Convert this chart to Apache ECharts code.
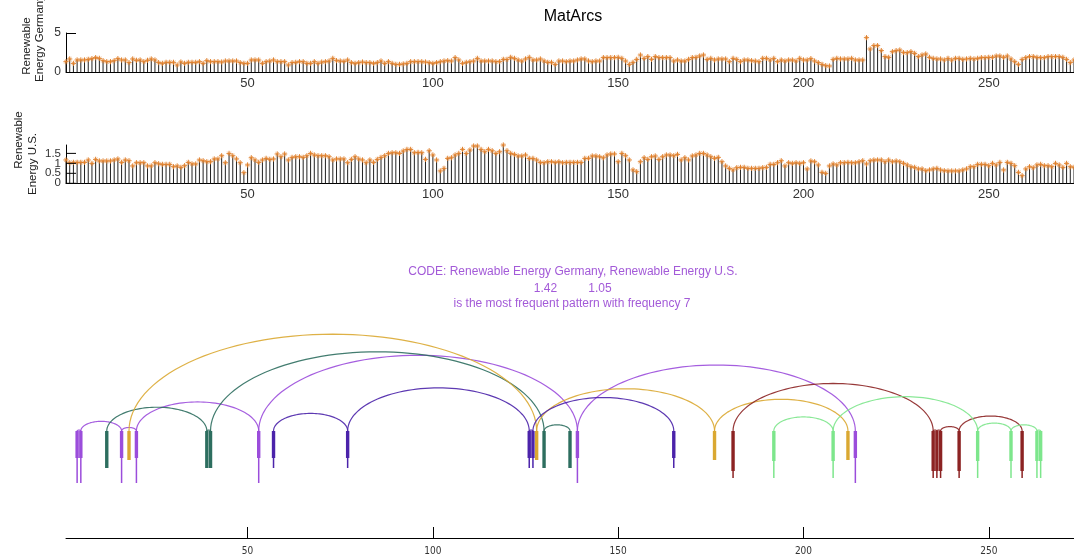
<!DOCTYPE html>
<html><head><meta charset="utf-8">
<script src="https://cdn.jsdelivr.net/npm/echarts@6/dist/echarts.min.js"></script>
<style>html,body{margin:0;padding:0;background:#fff}#c{width:1074px;height:558px}</style>
</head><body><div id="c"></div>
<script>
// ---------- data ----------
const germany = [
1.32,1.67,1.11,1.54,1.54,1.54,1.62,1.71,1.84,1.75,
1.45,1.32,1.32,1.45,1.71,1.54,1.54,1.2,1.67,1.5,
1.54,1.32,1.5,1.67,1.54,1.2,1.11,1.24,1.24,1.24,
0.9,1.28,1.11,1.24,1.24,1.24,1.32,1.11,1.45,1.32,
1.32,1.32,1.28,1.41,1.41,1.41,1.41,1.2,1.11,1.11,
1.54,1.54,1.54,1.11,1.32,1.41,1.54,1.32,1.32,1.32,
0.9,1.2,1.24,1.32,1.32,1.11,1.11,1.32,1.11,1.28,
1.32,1.41,1.75,1.45,1.41,1.37,1.54,1.2,1.11,1.2,
1.28,
1.2,1.2,1.11,1.2,1.41,1.11,1.32,1.11,0.98,0.98,
1.03,1.11,1.32,1.32,1.32,1.32,1.28,1.2,1.11,1.2,
1.32,1.41,1.45,1.41,1.84,1.54,1.11,1.24,1.32,1.41,
1.75,1.41,1.41,1.41,1.41,1.32,1.32,1.62,1.62,1.88,
1.75,1.54,1.41,1.67,1.88,1.54,1.54,1.67,1.41,1.24,
1.24,0.98,1.41,1.41,1.32,1.41,1.41,1.54,1.67,1.67,
1.41,1.32,1.41,1.41,1.84,1.84,1.84,1.84,1.88,1.75,
1.41,0.98,1.24,1.62,2.18,1.75,1.97,1.62,1.97,1.84,
1.84,1.84,1.84,1.41,1.54,1.41,1.41,1.62,1.84,1.88,
2.05,2.18,1.62,1.75,1.54,1.67,1.67,
1.67,1.32,1.75,1.62,1.32,1.54,1.54,1.45,1.41,1.32,
1.75,1.75,1.54,1.75,1.32,1.54,1.41,1.54,1.54,1.41,
1.75,1.54,1.54,1.71,1.41,1.2,0.98,0.81,0.77,1.62,
1.75,1.67,1.67,1.67,1.75,1.54,1.54,1.54,
4.4,
2.95,3.38,3.38,2.74,1.97,1.88,2.6,2.74,2.82,2.48,
2.48,2.6,2.39,1.97,2.18,2.31,1.88,1.75,1.67,1.67,
1.54,1.75,1.54,1.75,1.75,1.62,1.67,1.75,1.67,1.75,
1.84,1.84,1.88,1.88,2.05,2.05,1.88,2.05,1.67,1.32,
0.98,1.62,1.84,1.97,1.97,1.88,1.84,1.84,1.97,1.97,
1.97,1.97,1.88,1.62,1.2,1.54
];
const us = [
1.17,1.03,1.05,1.05,1.05,1.05,1.17,1.0,1.2,1.12,
1.12,1.12,1.12,1.17,1.22,1.05,1.17,1.13,0.87,1.03,
1.03,1.03,0.87,0.87,1.03,0.98,0.95,0.95,0.95,0.83,
0.87,0.8,0.88,1.05,0.97,0.97,1.17,1.13,1.08,1.08,
1.22,1.22,1.38,1.03,1.5,1.38,1.22,1.03,0.53,0.92,
1.28,1.17,1.05,1.17,1.25,1.2,1.22,1.47,1.33,1.47,
1.17,1.3,1.33,1.33,1.3,1.38,1.5,1.42,1.38,1.38,
1.38,1.33,1.17,1.22,1.22,1.22,1.03,1.2,1.33,1.22,
1.17,
1.03,1.17,1.05,1.2,1.3,1.38,1.5,1.53,1.53,1.5,
1.62,1.7,1.7,1.53,1.55,1.53,1.2,1.63,1.42,1.17,
0.62,0.75,1.25,1.28,1.42,1.5,1.7,1.5,1.67,1.87,
1.87,1.7,1.58,1.7,1.63,1.5,1.58,1.92,1.63,1.5,
1.45,1.37,1.37,1.42,1.25,1.25,1.17,1.05,1.03,1.08,
1.08,1.05,1.08,1.03,1.05,1.05,1.05,1.05,1.05,1.25,
1.25,1.37,1.37,1.33,1.28,1.42,1.47,1.47,1.08,1.5,
1.38,1.17,0.67,0.58,1.08,1.28,1.2,1.33,1.37,1.2,
1.33,1.42,1.42,1.38,1.45,1.17,1.28,1.17,1.37,1.42,
1.5,1.5,1.42,1.33,1.25,1.3,1.08,
0.87,0.75,0.67,0.78,0.8,0.8,0.75,0.75,0.75,0.75,
0.78,0.8,0.95,0.95,1.03,1.13,0.87,1.03,1.0,1.03,
1.0,1.03,0.72,1.12,1.08,0.92,0.55,0.5,0.87,0.97,
0.92,1.03,1.03,1.05,1.03,1.03,1.08,1.13,0.97,1.13,
1.17,1.17,1.17,1.08,1.17,1.08,1.12,1.08,1.0,0.92,
0.83,0.8,0.72,0.72,0.63,0.67,0.72,0.75,0.67,0.63,
0.62,0.62,0.62,0.62,0.67,0.72,0.83,0.83,0.95,0.95,
0.95,0.88,1.0,0.92,1.05,0.67,1.05,1.0,0.88,0.55,
0.38,0.72,0.83,0.78,0.92,0.95,0.88,0.88,0.83,1.0,
0.92,0.8,1.0,0.83,0.8
];
const xTickValues = [50, 100, 150, 200, 250];
const germanyTicks = [0, 5];
const usTicks = [0, 0.5, 1, 1.5];
const usTickLabels = ['0', '0.5', '1', '1.5'];
// recurring patterns: positions of occurrences (time index)
const patternPositions = [
  [4, 5, 16, 20, 53, 139, 214],
  [12, 39, 40, 130, 137],
  [18, 128, 176, 212],
  [57, 77, 126, 127, 165],
  [181, 235, 236, 237, 242, 259],
  [192, 208, 247, 256, 263, 264]
];
// drop of each occurrence bar below the baseline (solid part, full part)
const patternSolid = [27, 37, 29, 27, 40, 30];
const patternDrop = [52, 37, 29, 37, 47, 47];
const patternColors = ['#9b4ddb', '#2d6e5f', '#daa832', '#4b23aa', '#8c2323', '#7de68c'];
const codeText = 'CODE: Renewable Energy Germany, Renewable Energy U.S.';
const codeValues = ['1.42', '1.05'];
const freqText = 'is the most frequent pattern with frequency 7';

// ---------- chart ----------
const FONT = "'Liberation Sans', Arial, sans-serif";
const MARK = '#e07f2a';
const PURPLE_TEXT = '#a35ad8';

function stemItem(params, api) {
  const x = api.value(0), v = api.value(1);
  const p0 = api.coord([x, 0]), p1 = api.coord([x, v]);
  const s = 2.6, d = 1.8;
  return {
    type: 'group', children: [
      {type: 'line', shape: {x1: p0[0], y1: p0[1], x2: p1[0], y2: p1[1]}, style: {stroke: '#222', lineWidth: 1}},
      {type: 'line', shape: {x1: p1[0] - s, y1: p1[1], x2: p1[0] + s, y2: p1[1]}, style: {stroke: MARK, lineWidth: 1}},
      {type: 'line', shape: {x1: p1[0], y1: p1[1] - s, x2: p1[0], y2: p1[1] + s}, style: {stroke: MARK, lineWidth: 1}},
      {type: 'line', shape: {x1: p1[0] - d, y1: p1[1] - d, x2: p1[0] + d, y2: p1[1] + d}, style: {stroke: MARK, lineWidth: 0.8, opacity: 0.7}},
      {type: 'line', shape: {x1: p1[0] - d, y1: p1[1] + d, x2: p1[0] + d, y2: p1[1] - d}, style: {stroke: MARK, lineWidth: 0.8, opacity: 0.7}}
    ]
  };
}

const barData = [];
const arcData = [];
patternPositions.forEach((pos, k) => {
  pos.forEach((p, j) => {
    barData.push([p, -patternSolid[k], -patternDrop[k], k]);
    if (j > 0) arcData.push([pos[j - 1], p, k]);
  });
});

function barItem(params, api) {
  const x = api.value(0), k = api.value(3);
  const p0 = api.coord([x, 0]), p1 = api.coord([x, api.value(1)]), p2 = api.coord([x, api.value(2)]);
  const c = patternColors[k];
  return {
    type: 'group', children: [
      {type: 'line', shape: {x1: p0[0], y1: p0[1], x2: p2[0], y2: p2[1]}, style: {stroke: c, lineWidth: 1.5}},
      {type: 'line', shape: {x1: p0[0], y1: p0[1], x2: p1[0], y2: p1[1]}, style: {stroke: c, lineWidth: 3.4}}
    ]
  };
}

function arcItem(params, api) {
  const a = api.coord([api.value(0), 0]), b = api.coord([api.value(1), 0]);
  const k = api.value(2);
  const cx = (a[0] + b[0]) / 2, rx = (b[0] - a[0]) / 2, ry = rx * 0.475;
  const pts = [];
  const M = 64;
  for (let i = 0; i <= M; i++) {
    const t = Math.PI * i / M;
    pts.push([cx - rx * Math.cos(t), a[1] - ry * Math.sin(t)]);
  }
  return {type: 'polyline', shape: {points: pts}, style: {stroke: patternColors[k], lineWidth: 1.2, fill: null, opacity: 0.9}};
}

const xBase = {
  type: 'value', min: 1, max: 273,
  splitLine: {show: false},
  axisLine: {show: true, onZero: false, lineStyle: {color: '#000', width: 1}},
  axisTick: {show: false},
  axisLabel: {customValues: xTickValues, color: '#333', fontSize: 13, fontFamily: FONT, margin: 5}
};
const yBase = {
  type: 'value', min: 0,
  splitLine: {show: false},
  axisLine: {show: true, lineStyle: {color: '#000', width: 1}},
  axisTick: {show: true, inside: true, length: 10, lineStyle: {color: '#000'}},
  axisLabel: {color: '#333', fontSize: 12, fontFamily: FONT, margin: 5}
};

const graphics = [
  {id: 't0', type: 'text', x: 573, y: 17, style: {text: 'MatArcs', font: '16px ' + FONT, fill: '#000', textAlign: 'center', textVerticalAlign: 'middle'}},
  {id: 't1', type: 'text', x: 26.5, y: 46, rotation: Math.PI / 2, style: {text: 'Renewable', font: '11.5px ' + FONT, fill: '#222', textAlign: 'center', textVerticalAlign: 'middle'}},
  {id: 't2', type: 'text', x: 40, y: 38.5, rotation: Math.PI / 2, style: {text: 'Energy Germany', font: '11.5px ' + FONT, fill: '#222', textAlign: 'center', textVerticalAlign: 'middle'}},
  {id: 't3', type: 'text', x: 18.5, y: 140, rotation: Math.PI / 2, style: {text: 'Renewable', font: '11.5px ' + FONT, fill: '#222', textAlign: 'center', textVerticalAlign: 'middle'}},
  {id: 't4', type: 'text', x: 33, y: 164, rotation: Math.PI / 2, style: {text: 'Energy U.S.', font: '11.5px ' + FONT, fill: '#222', textAlign: 'center', textVerticalAlign: 'middle'}},
  {id: 't5', type: 'text', x: 573, y: 272, style: {text: codeText, font: '12px ' + FONT, fill: PURPLE_TEXT, textAlign: 'center', textVerticalAlign: 'middle'}},
  {id: 't6', type: 'text', x: 545.5, y: 288.5, style: {text: codeValues[0], font: '12px ' + FONT, fill: PURPLE_TEXT, textAlign: 'center', textVerticalAlign: 'middle'}},
  {id: 't7', type: 'text', x: 600, y: 288.5, style: {text: codeValues[1], font: '12px ' + FONT, fill: PURPLE_TEXT, textAlign: 'center', textVerticalAlign: 'middle'}},
  {id: 't8', type: 'text', x: 572, y: 304, style: {text: freqText, font: '12px ' + FONT, fill: PURPLE_TEXT, textAlign: 'center', textVerticalAlign: 'middle'}}
];

const option = {
  animation: false,
  backgroundColor: '#fff',
  grid: [
    {left: 66, right: 0, top: 33, height: 39},
    {left: 66, right: 0, top: 145, height: 38.3},
    {left: 66, right: 0, top: 300, height: 238}
  ],
  xAxis: [
    Object.assign({}, xBase, {gridIndex: 0}),
    Object.assign({}, xBase, {gridIndex: 1}),
    Object.assign({}, xBase, {
      gridIndex: 2,
      axisTick: {show: true, inside: true, length: 11, customValues: xTickValues, lineStyle: {color: '#000'}},
      axisLabel: {customValues: xTickValues, color: '#333', fontSize: 10,
        fontFamily: "'Liberation Sans Narrow', 'DejaVu Sans Condensed', 'Arial Narrow', sans-serif", margin: 8}
    })
  ],
  yAxis: [
    Object.assign({}, yBase, {gridIndex: 0, max: 5,
      axisTick: Object.assign({}, yBase.axisTick, {customValues: germanyTicks}),
      axisLabel: Object.assign({}, yBase.axisLabel, {customValues: germanyTicks})}),
    Object.assign({}, yBase, {gridIndex: 1, max: 1.92,
      axisTick: {show: false},
      axisLabel: {show: false}}),
    {type: 'value', gridIndex: 2, min: -107, max: 131, show: false}
  ],
  graphic: graphics,
  series: [
    {type: 'custom', xAxisIndex: 0, yAxisIndex: 0, renderItem: stemItem, data: germany.map((v, i) => [i + 1, v]), silent: true},
    {type: 'custom', xAxisIndex: 1, yAxisIndex: 1, renderItem: stemItem, data: us.map((v, i) => [i + 1, v]), silent: true},
    {type: 'custom', xAxisIndex: 2, yAxisIndex: 2, renderItem: arcItem, data: arcData, silent: true},
    {type: 'custom', xAxisIndex: 2, yAxisIndex: 2, renderItem: barItem, data: barData, silent: true}
  ]
};
const chart = echarts.init(document.getElementById('c'));
chart.setOption(option);

// U.S. axis ticks & labels (closely stacked, placed through the axis scale)
const extra = [];
usTicks.forEach((v, i) => {
  const p = chart.convertToPixel({xAxisIndex: 1, yAxisIndex: 1}, [1, v]);
  extra.push({id: 'ut' + i, type: 'line', z: 10, shape: {x1: p[0], y1: p[1], x2: p[0] + 10, y2: p[1]}, style: {stroke: '#000', lineWidth: 1}});
  extra.push({id: 'ul' + i, type: 'text', z: 10, x: p[0] - 5, y: p[1], style: {text: usTickLabels[i], font: '11.5px ' + FONT, fill: '#333', textAlign: 'right', textVerticalAlign: 'middle'}});
});
chart.setOption({graphic: graphics.concat(extra)});
</script>
</body></html>
